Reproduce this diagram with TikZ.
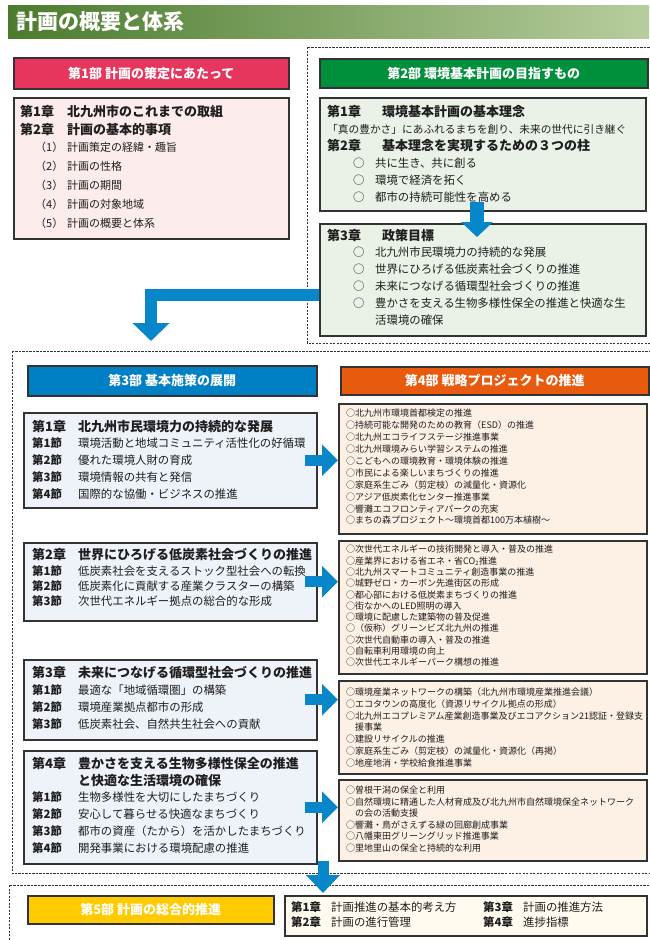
\documentclass[tikz,border=0pt]{standalone}
\usepackage{fontspec}
\setmainfont{Noto Sans CJK JP}
\usetikzlibrary{arrows.meta}
\definecolor{titleL}{HTML}{4B7B2D}
\definecolor{titleR}{HTML}{B7CD9E}
\definecolor{pone}{HTML}{E6365E}
\definecolor{ponebg}{HTML}{FCECEC}
\definecolor{ptwo}{HTML}{00903C}
\definecolor{ptwobg}{HTML}{EAF1E7}
\definecolor{pthree}{HTML}{0080C4}
\definecolor{chbg}{HTML}{EEF2F9}
\definecolor{pfour}{HTML}{E85A0E}
\definecolor{rbg}{HTML}{FDF0E5}
\definecolor{pfive}{HTML}{FFCB00}
\definecolor{pfivebg}{HTML}{FFFBEF}
\definecolor{arr}{HTML}{0786C9}
\definecolor{bord}{HTML}{333333}
\definecolor{txt}{HTML}{1E1E1E}
\tikzset{
  boxx/.style={draw=bord, line width=1.5pt, rectangle, anchor=north west, inner sep=0pt},
  hdr/.style={boxx, text=white, font=\fontsize{13}{15}\selectfont\bfseries},
  region/.style={draw=bord, line width=1pt, dash pattern=on 2.2pt off 1.3pt},
  t/.style={anchor=west, inner sep=0pt, text=txt, text height=0.88em, text depth=0.12em},
  hd/.style={t, font=\fontsize{13}{15}\selectfont\bfseries},
  sec/.style={t, font=\fontsize{11.4}{13}\selectfont},
  sub/.style={t, font=\fontsize{11}{13}\selectfont},
  itm/.style={t, font=\fontsize{9}{11}\selectfont},
  bigarrow/.style={draw=arr, line width=11pt, -{Triangle[width=31pt,length=16pt]}},
}
\begin{document}
\begin{tikzpicture}[x=1pt,y=-1pt]
\useasboundingbox (0,0) rectangle (649,940);

% title banner
\shade[left color=titleL, right color=titleR] (8,5) rectangle (649,38);
\node[anchor=west, inner sep=0pt, text=white, font=\fontsize{21}{24}\selectfont\bfseries] (title) at (16,21.5) {計画の概要と体系};

% ---------- Part 1
\node[hdr, fill=pone, minimum width=275pt, minimum height=31pt] (h1) at (13,57) {第1部 計画の策定にあたって};
\node[boxx, fill=ponebg, minimum width=275pt, minimum height=141pt] (b1) at (13,97) {};
\node[hd] (b1a) at (20,113) {\makebox[47pt][l]{第1章}北九州市のこれまでの取組};
\node[hd] (b1b) at (20,131) {\makebox[47pt][l]{第2章}計画の基本的事項};
\foreach \s [count=\i] in {計画策定の経緯・趣旨,計画の性格,計画の期間,計画の対象地域,計画の概要と体系}
  \node[sub] (b1s\i) at (35,{148+(\i-1)*19}) {\makebox[32pt][l]{（\i）}\s};

% ---------- Part 2 region
\draw[region] (307,47) rectangle (660,343);
\node[hdr, fill=ptwo, minimum width=328pt, minimum height=29pt] (h2) at (319,58) {第2部 環境基本計画の目指すもの};
\coordinate (lbend) at (151,295);
\coordinate (ltip) at (151,341);
\node[boxx, fill=ptwobg, minimum width=326pt, minimum height=113pt] (b2a) at (319,97) {};
\node[hd] (b2a1) at (327,113) {\makebox[55pt][l]{第1章}環境基本計画の基本理念};
\node[t, font=\fontsize{10.7}{13}\selectfont] (b2a2) at (327,130) {「真の豊かさ」にあふれるまちを創り、未来の世代に引き継ぐ};
\node[hd] (b2a3) at (327,147) {\makebox[55pt][l]{第2章}基本理念を実現するための３つの柱};
\foreach \s [count=\i] in {共に生き、共に創る,環境で経済を拓く,都市の持続可能性を高める}
  \node[sec] (b2ai\i) at (353,{164+(\i-1)*16.6}) {\makebox[22pt][l]{○}\s};

\draw[draw=arr, line width=12pt, line join=miter, -{Triangle[width=36pt,length=18pt]}] (319,295) -- (lbend) -- (ltip);

\node[boxx, fill=ptwobg, minimum width=326pt, minimum height=112pt] (b2b) at (319,223) {};
\node[hd] (b2b1) at (327,237) {\makebox[55pt][l]{第3章}政策目標};
\foreach \s [count=\i] in {北九州市民環境力の持続的な発展,世界にひろげる低炭素社会づくりの推進,未来につなげる循環型社会づくりの推進,豊かさを支える生物多様性保全の推進と快適な生}
  \node[sec] (b2bi\i) at (353,{253+(\i-1)*17}) {\makebox[22pt][l]{○}\s};
\node[sec] (b2bi5) at (375,321) {活環境の確保};
\coordinate (sa) at (477,202);
\coordinate (sb) at (477,237);
\draw[draw=arr, line width=14pt, -{Triangle[width=31pt,length=15pt]}] (sa) -- (sb);

% ---------- Part 3/4 region
\draw[region] (12,351) rectangle (660,873);
\node[hdr, fill=pthree, minimum width=289pt, minimum height=30pt] (h3) at (27,365) {第3部 基本施策の展開};
\node[hdr, fill=pfour, minimum width=308pt, minimum height=28pt] (h4) at (340,366) {第4部 戦略プロジェクトの推進};

% chapter boxes
\node[boxx, fill=chbg, minimum width=293pt, minimum height=95pt] (c1) at (23,412) {};
\node[hd] (c1t) at (32,428) {\makebox[46pt][l]{第1章}北九州市民環境力の持続的な発展};
\foreach \s [count=\i] in {環境活動と地域コミュニティ活性化の好循環,優れた環境人財の育成,環境情報の共有と発信,国際的な協働・ビジネスの推進}
  \node[sec] (c1s\i) at (32,{444+(\i-1)*16.8}) {\makebox[46pt][l]{\bfseries 第\i 節}\s};

\node[boxx, fill=chbg, minimum width=293pt, minimum height=78pt] (c2) at (23,542) {};
\node[hd] (c2t) at (32,556) {\makebox[46pt][l]{第2章}世界にひろげる低炭素社会づくりの推進};
\foreach \s [count=\i] in {低炭素社会を支えるストック型社会への転換,低炭素化に貢献する産業クラスターの構築,次世代エネルギー拠点の総合的な形成}
  \node[sec] (c2s\i) at (32,{572+(\i-1)*15}) {\makebox[46pt][l]{\bfseries 第\i 節}\s};

\node[boxx, fill=chbg, minimum width=293pt, minimum height=80pt] (c3) at (23,659) {};
\node[hd] (c3t) at (32,674) {\makebox[46pt][l]{第3章}未来につなげる循環型社会づくりの推進};
\foreach \s [count=\i] in {最適な「地域循環圏」の構築,環境産業拠点都市の形成,低炭素社会、自然共生社会への貢献}
  \node[sec] (c3s\i) at (32,{691+(\i-1)*17}) {\makebox[46pt][l]{\bfseries 第\i 節}\s};

\node[boxx, fill=chbg, minimum width=293pt, minimum height=113pt] (c4) at (23,750) {};
\node[hd] (c4t) at (32,765) {\makebox[46pt][l]{第4章}豊かさを支える生物多様性保全の推進};
\node[hd] (c4t2) at (78,782) {と快適な生活環境の確保};
\foreach \s [count=\i] in {生物多様性を大切にしたまちづくり,安心して暮らせる快適なまちづくり,都市の資産（たから）を活かしたまちづくり,開発事業における環境配慮の推進}
  \node[sec] (c4s\i) at (32,{798+(\i-1)*17}) {\makebox[46pt][l]{\bfseries 第\i 節}\s};

% project boxes
\node[boxx, fill=rbg, minimum width=308pt, minimum height=130pt] (r1) at (338,403) {};
\foreach \s [count=\i] in {○北九州市環境首都検定の推進,○持続可能な開発のための教育（ESD）の推進,○北九州エコライフステージ推進事業,○北九州環境みらい学習システムの推進,○こどもへの環境教育・環境体験の推進,○市民による楽しいまちづくりの推進,○家庭系生ごみ（剪定枝）の減量化・資源化,○アジア低炭素化センター推進事業,○響灘エコフロンティアパークの充実,○まちの森プロジェクト～環境首都100万本植樹～}
  \node[itm] (r1l\i) at (346,{413+(\i-1)*11.9}) {\s};

\node[boxx, fill=rbg, minimum width=308pt, minimum height=133pt] (r2) at (338,540) {};
\foreach \s [count=\i] in {○次世代エネルギーの技術開発と導入・普及の推進,○産業界における省エネ・省CO\textsubscript{2}推進,○北九州スマートコミュニティ創造事業の推進,○城野ゼロ・カーボン先進街区の形成,○都心部における低炭素まちづくりの推進,○街なかへのLED照明の導入,○環境に配慮した建築物の普及促進,○（仮称）グリーンビズ北九州の推進,○次世代自動車の導入・普及の推進,○自転車利用環境の向上,○次世代エネルギーパーク構想の推進}
  \node[itm] (r2l\i) at (346,{549+(\i-1)*11.3}) {\s};

\node[boxx, fill=rbg, minimum width=308pt, minimum height=93pt] (r3) at (338,680) {};
\foreach \s [count=\i] in {○環境産業ネットワークの構築（北九州市環境産業推進会議）,○エコタウンの高度化（資源リサイクル拠点の形成）,○北九州エコプレミアム産業創造事業及びエコアクション21認証・登録支,\phantom{○}援事業,○建設リサイクルの推進,○家庭系生ごみ（剪定枝）の減量化・資源化（再掲）,○地産地消・学校給食推進事業}
  \node[itm] (r3l\i) at (346,{692+(\i-1)*11.7}) {\s};

\node[boxx, fill=rbg, minimum width=308pt, minimum height=81pt] (r4) at (338,779) {};
\foreach \s [count=\i] in {○曽根干潟の保全と利用,○自然環境に精通した人材育成及び北九州市自然環境保全ネットワーク,\phantom{○}の会の活動支援,○響灘・鳥がさえずる緑の回廊創成事業,○八幡東田グリーングリッド推進事業,○里地里山の保全と持続的な利用}
  \node[itm] (r4l\i) at (346,{790+(\i-1)*11.5}) {\s};

% right arrows
\draw[bigarrow] ([xshift=-13pt]c1.east) -- (c1.east -| r1.west);
\draw[bigarrow] ([xshift=-13pt]c2.east) -- (c2.east -| r2.west);
\draw[bigarrow] ([xshift=-13pt]c3.east) -- (c3.east -| r3.west);
\draw[bigarrow] ([xshift=-13pt]c4.east) -- (c4.east -| r4.west);

% ---------- Part 5 region
\draw[region] (9,885) rectangle (660,960);
\coordinate (da) at (323,861);
\coordinate (db) at (323,893);
\draw[draw=arr, line width=11pt, -{Triangle[width=33pt,length=18pt]}] (da) -- (db);
\node[hdr, fill=pfive, minimum width=246pt, minimum height=28pt] (h5) at (27,895) {第5部 計画の総合的推進};
\node[boxx, fill=pfivebg, minimum width=362pt, minimum height=40pt] (b5) at (284,895) {};
\node[sec] (b5a) at (291,908) {\makebox[40pt][l]{\bfseries 第1章}計画推進の基本的考え方};
\node[sec] (b5b) at (291,923) {\makebox[40pt][l]{\bfseries 第2章}計画の進行管理};
\node[sec] (b5c) at (483,908) {\makebox[40pt][l]{\bfseries 第3章}計画の推進方法};
\node[sec] (b5d) at (483,923) {\makebox[40pt][l]{\bfseries 第4章}進捗指標};
\end{tikzpicture}
\end{document}
